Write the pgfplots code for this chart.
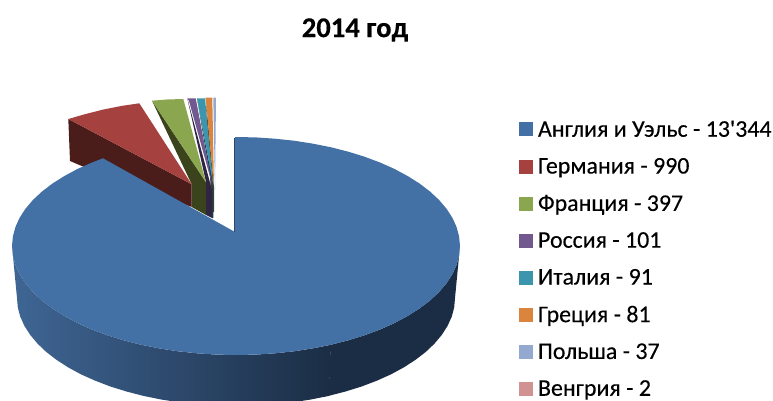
\documentclass[border=0pt]{standalone}
\usepackage{pgfplots}
\pgfplotsset{compat=1.18}
\usepackage{fontspec}
\setmainfont{Carlito}
\newfontfamily\legfont{Carlito}[FakeBold=0.25]
\newfontfamily\titfont{Carlito Bold}[FakeBold=0.35]
\definecolor{cblue}{HTML}{4371A6}
\definecolor{cred}{HTML}{A5423F}
\definecolor{cgreen}{HTML}{8AA64F}
\definecolor{cpurple}{HTML}{71588F}
\definecolor{cteal}{HTML}{3B95AD}
\definecolor{corange}{HTML}{DB843D}
\definecolor{cperi}{HTML}{93A9CF}
\definecolor{cpink}{HTML}{D19392}
\definecolor{dred}{HTML}{4A1C1A}
\definecolor{dgreen}{HTML}{3A431C}
\definecolor{dpurple}{HTML}{2E2444}
\definecolor{dteal}{HTML}{19404F}
\definecolor{dorange}{HTML}{5F3A1A}
\definecolor{sideL}{HTML}{3F6694}
\definecolor{sideR}{HTML}{1B2D45}
\pgfplotsset{
  poly/.style={forget plot,draw=none,fill=#1},
  sq/.style={legend image code/.code={\fill[#1,draw=none] (0pt,-7pt) rectangle (14pt,7pt);\path[draw=none,fill=none] (0pt,0pt) -- (17pt,0pt);}},
}
\begin{document}
\begin{tikzpicture}
\useasboundingbox (0,0) rectangle (773pt,401pt);
\begin{axis}[
  scale only axis,width=773pt,height=401pt,
  xmin=0,xmax=773,ymin=0,ymax=401,y dir=reverse,
  axis lines=none,
  legend cell align=left,
  legend style={at={(axis cs:519,118.6)},anchor=north west,draw=none,fill=none,inner sep=0pt,outer sep=0pt,
    font=\fontsize{23.9}{24}\legfont,row sep=15.8pt},
]
% periwinkle
\addplot[poly=cperi] coordinates {(213.3,97.7)(216,97.7)(215,190)} --cycle;
% orange
\addplot[poly=dorange] coordinates {(205.7,97.7)(214,187)(214,212)(212,212)} --cycle;
\addplot[poly=corange] coordinates {(205.7,97.7)(212.3,97.7)(214,187)} --cycle;
% teal
\addplot[poly=dteal] coordinates {(197,98.3)(213.3,185)(213.3,218)(212,218)(212,188)} --cycle;
\addplot[poly=cteal] coordinates {(197,98.3)(205,98.3)(213.3,185)} --cycle;
% purple
\addplot[poly=dpurple] coordinates {(187.3,98.3)(212,190)(212,218)(206,215)(206,182)} --cycle;
\addplot[poly=cpurple] coordinates {(189,101)(187.3,98.3)(195.7,98.3)(212.3,185)} --cycle;
% green
\addplot[poly=dgreen] coordinates {(152,100.7)(206,182.3)(206,215)(191.7,207)(191.7,184.3)} --cycle;
\addplot[poly=cgreen] coordinates {(152,100.7)(167,99.5)(183.3,99)(206,182.3)} --cycle;
% red
\addplot[poly=dred] coordinates {(68.3,119)(191.7,184.3)(191.7,207)(81.7,166)(70,161)} --cycle;
\addplot[poly=cred] coordinates {(68.3,119)(85,114.2)(103,109.6)(121,106)(139.3,103.3)(191.7,184.3)} --cycle;
% blue side, left part (shaded) and right part (dark)
\addplot[forget plot,draw=none,left color=sideL,right color=sideR] coordinates {
 (12,246)(12.9,255.5)(15.4,264.9)(19.6,274.2)(25.5,283.3)(33,292.1)(42,300.5)(52.5,308.5)(64.4,316)(77.6,323.1)(92,329.5)(107.5,335.3)(124,340.4)(141.3,344.8)(159.4,348.4)(178,351.3)(197.1,353.3)(216.5,354.6)(236,355)(255.5,354.6)(275,353.3)(294,351.3)(312.6,348.4)(331,344.8)
 (329,395.9)(310.9,399.5)(292.7,402.3)(274,404.4)(255.1,405.6)(236,406)(216.9,405.6)(198,404.4)(179.3,402.3)(161.1,399.5)(143.5,395.9)(126.5,391.5)(110.4,386.5)(95.2,380.7)(81.1,374.4)(68.2,367.4)(56.6,359.9)(46.3,352)(37.5,343.6)(30.2,334.9)(24.5,326)(20.3,316.8)(17.8,307.4)(17,298)} --cycle;
\addplot[poly=sideR] coordinates {
 (330.7,344.8)(348,340.4)(364.5,335.3)(380,329.5)(394.4,323.1)(407.6,316)(419.5,308.5)(430,300.5)(439,292.1)(446.5,283.3)(452.4,274.2)(456.6,264.9)(459.1,255.5)(460,246)
 (455,298)(454.2,307.4)(451.7,316.8)(447.5,326)(441.8,334.9)(434.5,343.6)(425.7,352)(415.4,359.9)(403.8,367.4)(390.9,374.4)(376.8,380.7)(361.6,386.5)(345.5,391.5)(328.5,395.9)} --cycle;
% blue top
\addplot[poly=cblue] coordinates {
 (235,232)(235,137)(236,137)(255.5,137.4)(275,138.7)(294,140.7)(312.6,143.6)(330.7,147.2)(348,151.6)(364.5,156.7)(380,162.5)(394.4,168.9)(407.6,176)(419.5,183.5)(430,191.5)(439,199.9)(446.5,208.7)(452.4,217.8)(456.6,227.1)(459.1,236.5)(460,246)
 (459.1,255.5)(456.6,264.9)(452.4,274.2)(446.5,283.3)(439,292.1)(430,300.5)(419.5,308.5)(407.6,316)(394.4,323.1)(380,329.5)(364.5,335.3)(348,340.4)(330.7,344.8)(312.6,348.4)(294,351.3)(275,353.3)(255.5,354.6)(236,355)
 (216.5,354.6)(197.1,353.3)(178,351.3)(159.4,348.4)(141.3,344.8)(124,340.4)(107.5,335.3)(92,329.5)(77.6,323.1)(64.4,316)(52.5,308.5)(42,300.5)(33,292.1)(25.5,283.3)(19.6,274.2)(15.4,264.9)(12.9,255.5)(12,246)
 (12.9,236.5)(15.4,227.1)(19.6,217.8)(25.5,208.7)(33,199.9)(42,191.5)(52.5,183.5)(64.4,176)(77.6,168.9)(92,162.5)(103,158.3)} --cycle;
\addplot[forget plot,draw=sideL!70!black,line width=0.7pt] coordinates {(234.8,138)(234.8,232)};
\addlegendimage{sq=cblue}\addlegendentry{Англия и Уэльс - 13'344}
\addlegendimage{sq=cred}\addlegendentry{Германия - 990}
\addlegendimage{sq=cgreen}\addlegendentry{Франция - 397}
\addlegendimage{sq=cpurple}\addlegendentry{Россия - 101}
\addlegendimage{sq=cteal}\addlegendentry{Италия - 91}
\addlegendimage{sq=corange}\addlegendentry{Греция - 81}
\addlegendimage{sq=cperi}\addlegendentry{Польша - 37}
\addlegendimage{sq=cpink}\addlegendentry{Венгрия - 2}
\node[font=\fontsize{28.6}{29}\titfont] at (axis cs:355,30) {2014 год};
\end{axis}
\end{tikzpicture}
\end{document}
